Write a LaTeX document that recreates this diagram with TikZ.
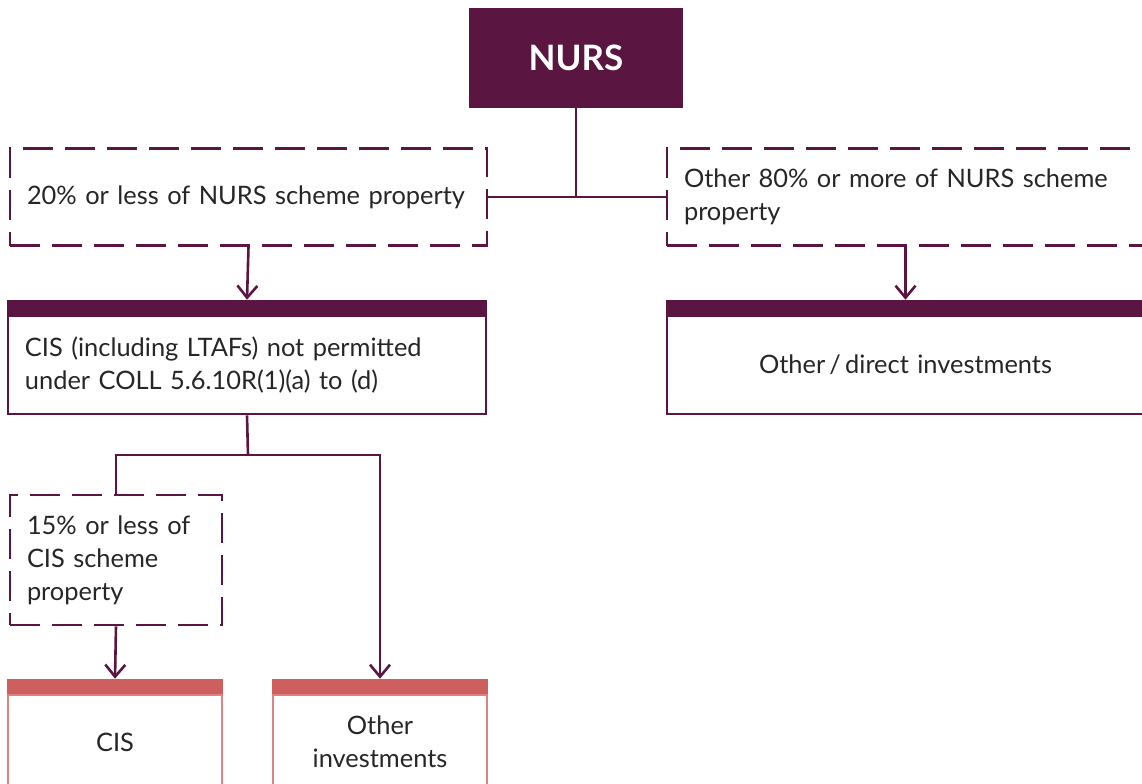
\documentclass[tikz,border=0pt]{standalone}
\usepackage{fontspec}
\setmainfont{Lato}
\usetikzlibrary{arrows.meta}
\definecolor{plum}{RGB}{90,22,64}
\definecolor{coral}{RGB}{205,95,95}
\definecolor{lightcoral}{RGB}{224,128,128}
\begin{document}
\begin{tikzpicture}[
    x=0.5pt, y=-0.5pt,
    txt/.style={font=\fontsize{12.7}{16.5}\selectfont, text=black!85},
    dashbox/.style={txt, draw=plum, line width=1.3pt, dash pattern=on 15pt off 6pt, inner xsep=8.5pt, align=left},
    barbox/.style={txt, draw=#1, line width=1.3pt, inner xsep=8.5pt},
    conn/.style={draw=plum, line width=1.3pt},
    arr/.style={conn, -{Straight Barb[length=6pt,width=10pt,line width=1.3pt]}}
]
\useasboundingbox (0,0) rectangle (1142,783);
\clip (0,0) rectangle (1142,783);

% Top
\node[fill=plum, text=white, font=\fontsize{17.5}{20}\selectfont\bfseries,
      minimum width=107pt, minimum height=50pt] (nurs) at (576,58) {NURS};

% Split of NURS scheme property
\node[dashbox, text width=221.5pt, minimum height=48.5pt] (less20) at (248.5,197)
    {20\% or less of NURS scheme property};
\node[dashbox, text width=221.5pt, minimum height=48.5pt] (more80) at (905.5,197)
    {Other 80\% or more of NURS scheme\\property};

% Investment boxes
\node[barbox=plum, text width=222pt, minimum height=49pt, align=left] (cisnp) at (247,365)
    {CIS (including LTAFs) not permitted\\under COLL 5.6.10R(1)(a) to (d)};
\node[barbox=plum, text width=221.5pt, minimum height=49pt, align=center] (direct) at (905.5,365)
    {Other\,/\,direct investments};

% Split of CIS scheme property
\node[dashbox, text width=89pt, minimum height=65pt] (less15) at (116,560)
    {15\% or less of\\CIS scheme\\property};
\node[barbox=lightcoral, text width=90pt, minimum height=47pt, align=center] (cis) at (115,742)
    {CIS};
\node[barbox=lightcoral, text width=90pt, minimum height=47pt, align=center] (other) at (380,742)
    {Other\\investments};

% Top bars
\foreach \n/\c in {cisnp/plum, direct/plum, cis/coral, other/coral}
    \fill[\c] (\n.north west) rectangle ([yshift=7.5pt]\n.north east);

% Connectors
\coordinate (split) at (248,455);
\draw[conn] (nurs) -- (nurs |- less20.east);
\draw[conn] (less20.east) -- (more80.west);
\draw[arr] (less20.south) -- ([yshift=7.5pt]cisnp.north);
\draw[arr] (more80.south) -- ([yshift=7.5pt]direct.north);
\draw[conn] (cisnp.south) -- (split);
\draw[conn] (split) -| (less15.north);
\draw[arr] (split) -| ([yshift=7.5pt]other.north);
\draw[arr] (less15.south) -- ([yshift=7.5pt]cis.north);

\end{tikzpicture}
\end{document}
